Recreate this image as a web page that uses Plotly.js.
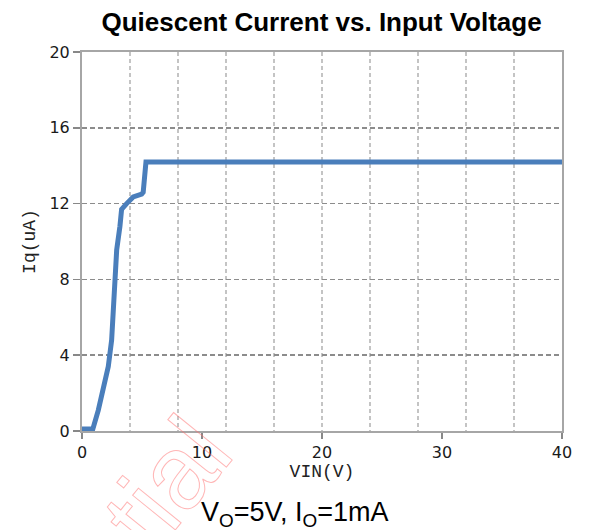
<!DOCTYPE html>
<html>
<head>
<meta charset="utf-8">
<script src="https://cdn.plot.ly/plotly-3.0.1.min.js"></script>
<style>html,body{margin:0;padding:0;background:#fff;}#chart{width:590px;height:530px;}</style>
</head>
<body>
<div id="chart"></div>
<script>
// Data
const vin = [0, 0.9, 1.36, 1.78, 2.19, 2.47, 2.6, 2.75, 2.89, 3.16, 3.3, 3.72, 4.27, 4.97, 5.1, 5.33, 10, 20, 30, 40];
const iq  = [0.1, 0.1, 1.1, 2.16, 3.4, 4.8, 6.4, 8.1, 9.55, 10.8, 11.7, 12.0, 12.35, 12.5, 12.6, 14.2, 14.2, 14.2, 14.2, 14.2];
const xTicks = [0, 10, 20, 30, 40];
const yTicks = [0, 4, 8, 12, 16, 20];

const titleText = 'Quiescent Current vs. Input Voltage';
const xTitle = 'VIN(V)';
const yTitle = 'Iq(uA)';
const noteText = 'V<sub>O</sub>=5V, I<sub>O</sub>=1mA';
const watermark = 'Confidential';

const trace = {
  x: vin, y: iq, type: 'scatter', mode: 'lines',
  line: {color: '#4a7ebb', width: 5},
  hoverinfo: 'skip'
};

const tickFont = {family: 'DejaVu Sans', size: 16, color: '#1a1a1a'};
const monoFont = {family: 'Liberation Mono', size: 18, color: '#222'};

const layout = {
  width: 590, height: 530,
  margin: {l: 82, r: 28, t: 52, b: 99, pad: 0},
  paper_bgcolor: '#fff', plot_bgcolor: '#fff',
  showlegend: false,
  title: {text: '<b>' + titleText + '</b>', font: {family: 'Liberation Sans', size: 26, color: '#000'},
          x: 0.545, xanchor: 'center', y: 0.9585, yanchor: 'middle'},
  xaxis: {
    range: [0, 40], tickvals: xTicks, ticktext: xTicks.map(String),
    showgrid: false, zeroline: false,
    showline: true, mirror: true, linecolor: '#a6a6a6', linewidth: 2,
    ticks: 'outside', ticklen: 6, tickwidth: 1.5, tickcolor: '#888',
    tickfont: tickFont,
    minor: {dtick: 4, tick0: 0, showgrid: true, gridcolor: '#c4c4c4', griddash: '4px,3px', gridwidth: 1.5, ticks: ''},
    title: {text: xTitle, font: monoFont, standoff: 3}
  },
  yaxis: {
    range: [0, 20], tickvals: yTicks, ticktext: yTicks.map(String),
    showgrid: true, gridcolor: '#8c8c8c', griddash: '5px,3px', gridwidth: 1.5,
    zeroline: false,
    showline: true, mirror: true, linecolor: '#a6a6a6', linewidth: 2,
    ticks: 'outside', ticklen: 7, tickwidth: 1.5, tickcolor: '#888',
    tickfont: tickFont,
    title: {text: yTitle, font: monoFont, standoff: 9}
  },
  annotations: [
    {text: noteText, xref: 'paper', yref: 'paper', x: 0.443, y: -0.2203, xanchor: 'center', yanchor: 'middle',
     showarrow: false, font: {family: 'Liberation Sans', size: 27, color: '#000'}},
    {text: watermark, xref: 'paper', yref: 'paper', x: -0.096, y: -0.565, xanchor: 'center', yanchor: 'middle',
     showarrow: false, textangle: -51, font: {family: 'Liberation Sans', size: 104, color: 'rgba(255,120,120,0.6)'}}
  ]
};

Plotly.newPlot('chart', [trace], layout, {displayModeBar: false, staticPlot: true}).then(gd => {
  gd.querySelectorAll('.annotation-text').forEach(t => {
    if (t.textContent === watermark) {
      t.style.fill = 'none';
      t.style.stroke = 'rgba(255,110,110,0.5)';
      t.style.strokeWidth = '1';
    }
  });
});
</script>
</body>
</html>
